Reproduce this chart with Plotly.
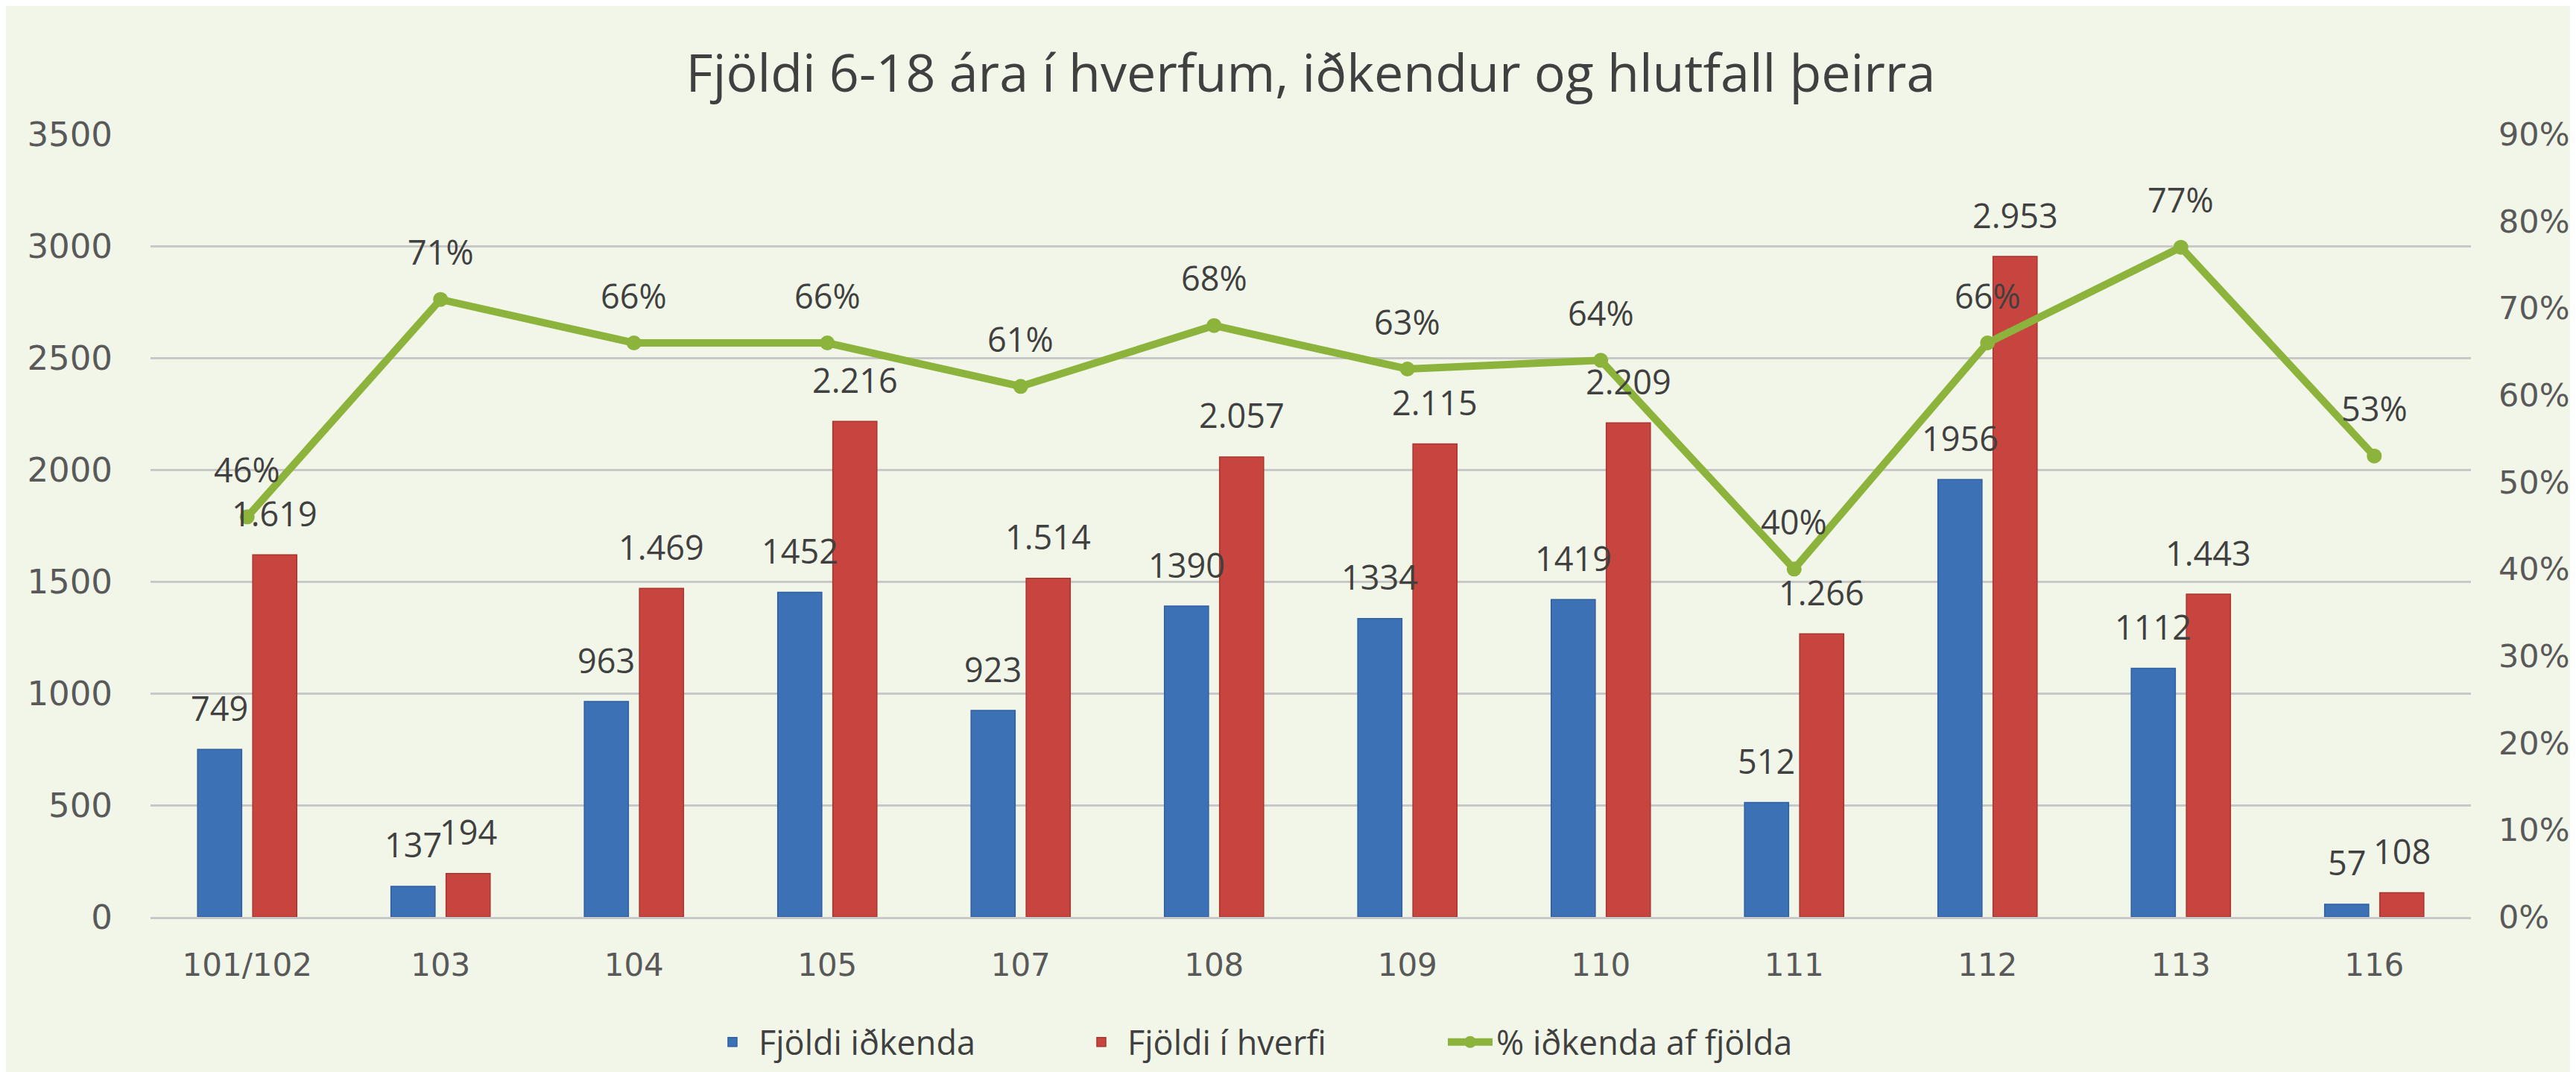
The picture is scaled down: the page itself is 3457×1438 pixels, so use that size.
import plotly.graph_objects as go

categories = ["101/102", "103", "104", "105", "107", "108", "109", "110", "111", "112", "113", "116"]
idkendur = [749, 137, 963, 1452, 923, 1390, 1334, 1419, 512, 1956, 1112, 57]
ibuar = [1619, 194, 1469, 2216, 1514, 2057, 2115, 2209, 1266, 2953, 1443, 108]
hlutfall = [0.46, 0.71, 0.66, 0.66, 0.61, 0.68, 0.63, 0.64, 0.40, 0.66, 0.77, 0.53]

BLUE = "#3d71b6"
RED = "#c8443e"
GREEN = "#8cb33b"
BG = "#f2f6e8"
TXT = "#404040"
TICK = "#595959"
LABEL_FONT = dict(family="Open Sans", size=45, color=TXT)

fig = go.Figure()
fig.add_trace(go.Bar(x=categories, y=idkendur, name="Fjöldi iðkenda",
                     marker=dict(color=BLUE, line=dict(color="#2f5f9e", width=1.5))))
fig.add_trace(go.Bar(x=categories, y=ibuar, name="Fjöldi í hverfi",
                     marker=dict(color=RED, line=dict(color="#a8362f", width=1.5))))
fig.add_trace(go.Scatter(x=categories, y=hlutfall, name="% iðkenda af fjölda", yaxis="y2",
                         mode="lines+markers",
                         line=dict(color=GREEN, width=10),
                         marker=dict(color=GREEN, size=20, symbol="circle")))

annotations = []
for i, v in enumerate(idkendur):
    annotations.append(dict(x=i, y=v, xref="x", yref="y", text=str(v), showarrow=False,
                            xshift=-37, yshift=56, yanchor="middle", font=LABEL_FONT))
for i, v in enumerate(ibuar):
    txt = f"{v:,}".replace(",", ".")
    annotations.append(dict(x=i, y=v, xref="x", yref="y", text=txt, showarrow=False,
                            xshift=37, yshift=56, yanchor="middle", font=LABEL_FONT))
for i, v in enumerate(hlutfall):
    annotations.append(dict(x=i, y=v, xref="x", yref="y2", text=f"{round(v*100)}%", showarrow=False,
                            xshift=0, yshift=64, yanchor="middle", font=LABEL_FONT))

fig.update_layout(
    width=3457, height=1438,
    paper_bgcolor=BG, plot_bgcolor=BG,
    margin=dict(l=194, r=149, t=172, b=205),
    barmode="group", bargap=0.43, bargroupgap=0.2,
    title=dict(text="Fjöldi 6-18 ára í hverfum, iðkendur og hlutfall þeirra",
               x=0.5, xref="paper", xanchor="center", y=1 - 90 / 1438, yanchor="middle",
               font=dict(family="Open Sans", size=70, color=TXT)),
    xaxis=dict(type="category", range=[-0.5, len(categories) - 0.5], autorange=False,
               showgrid=False, showline=True, linecolor="#c8c8c8", linewidth=3,
               tickfont=dict(family="DejaVu Sans", size=42, color=TICK), ticks="", tickangle=0,
               ticklabelstandoff=26),
    yaxis=dict(range=[0, 3500], dtick=500, showgrid=True, gridcolor="#c8c8c8", gridwidth=3,
               zeroline=False, tickfont=dict(family="DejaVu Sans", size=45, color=TICK),
               ticklabelstandoff=50),
    yaxis2=dict(range=[0, 0.9], dtick=0.1, tickformat=".0%", overlaying="y", side="right",
                showgrid=False, zeroline=False,
                tickfont=dict(family="DejaVu Sans", size=43, color=TICK), ticklabelstandoff=36),
    legend=dict(orientation="h", x=0.478, xanchor="center", y=-0.16, yanchor="middle",
                font=dict(family="Open Sans", size=45, color=TXT), bgcolor="rgba(0,0,0,0)",
                entrywidth=420, entrywidthmode="pixels", itemwidth=60, traceorder="normal"),
    annotations=annotations,
    showlegend=True,
)

fig.write_html("out.html")
